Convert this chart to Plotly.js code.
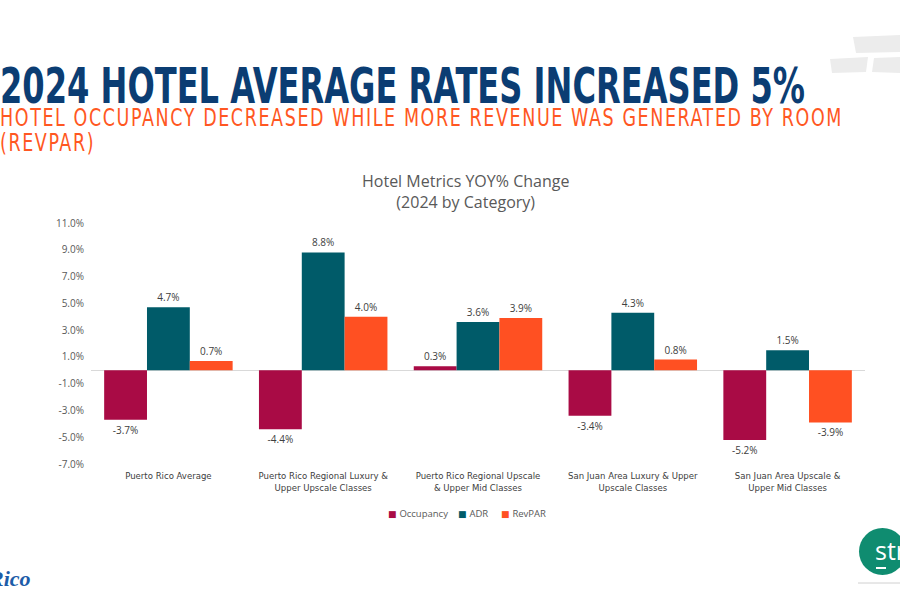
<!DOCTYPE html>
<html>
<head>
<meta charset="utf-8">
<script src="https://cdn.plot.ly/plotly-3.0.1.min.js"></script>
<style>
html,body{margin:0;padding:0;background:#fff;overflow:hidden}
#wrap{position:relative;width:900px;height:600px}
#chart{position:absolute;left:0;top:0;width:900px;height:600px}
.hd{position:absolute;left:0;white-space:nowrap;transform-origin:0 0;line-height:1;
    font-family:'Liberation Sans Narrow','DejaVu Sans Condensed','Liberation Sans',sans-serif;z-index:2}
</style>
</head>
<body>
<div id="wrap">
  <div id="chart"></div>
  <span class="hd" id="t1" style="top:61px;font-size:50px;font-weight:bold;color:#0b3d73">2024 HOTEL AVERAGE RATES INCREASED 5%</span>
  <span class="hd" id="t2" style="top:107px;font-size:24px;line-height:22px;color:#ff5722;letter-spacing:2px">HOTEL OCCUPANCY DECREASED WHILE MORE REVENUE WAS GENERATED BY ROOM</span>
  <span class="hd" id="t3" style="top:132px;font-size:24px;line-height:22px;color:#ff5722;letter-spacing:2px">(REVPAR)</span>
</div>
<script>
// ---- data ----
const categories = [
  "Puerto Rico Average",
  "Puerto Rico Regional Luxury &<br>Upper Upscale Classes",
  "Puerto Rico Regional Upscale<br>& Upper Mid Classes",
  "San Juan Area Luxury & Upper<br>Upscale Classes",
  "San Juan Area Upscale &<br>Upper Mid Classes"
];
const occupancy = [-3.7, -4.4, 0.3, -3.4, -5.2];
const adr       = [4.7, 8.8, 3.6, 4.3, 1.5];
const revpar    = [0.7, 4.0, 3.9, 0.8, -3.9];
const seriesNames = ["Occupancy", "ADR", "RevPAR"];
const yTickVals = [-7, -5, -3, -1, 1, 3, 5, 7, 9, 11];
const yTickText = yTickVals.map(v => v.toFixed(1) + "%");

// ---- styling ----
const colors = ["#a90b45", "#005b69", "#ff5022"];
const M = {l: 91, r: 35, t: 223, b: 136};
const PW = 900 - M.l - M.r, PH = 600 - M.t - M.b;
const px = x => (x - M.l) / PW;
const py = y => (600 - M.b - y) / PH;
const labelFont = {family: "Open Sans, sans-serif", size: 10, color: "#404040"};
const legendX = [386, 456, 499];

const seriesVals = [occupancy, adr, revpar];
const traces = seriesVals.map((vals, i) => ({
  type: "bar", name: seriesNames[i], x: categories, y: vals,
  marker: {color: colors[i]},
  texttemplate: "%{y:.1f}%", textposition: "outside", cliponaxis: false,
  textfont: labelFont, showlegend: false, hoverinfo: "skip"
}));

const shapes = [
  // grey brush strokes top-right
  {type: "path", xref: "paper", yref: "paper", layer: "below",
   path: `M${px(853)},${py(37)} L${px(900)},${py(35)} L${px(900)},${py(52)} L${px(856)},${py(53)} Z`,
   fillcolor: "#ececec", line: {width: 0}},
  {type: "path", xref: "paper", yref: "paper", layer: "below",
   path: `M${px(830)},${py(59)} L${px(868)},${py(57)} L${px(866)},${py(72)} L${px(832)},${py(73)} Z`,
   fillcolor: "#ececec", line: {width: 0}},
  {type: "path", xref: "paper", yref: "paper", layer: "below",
   path: `M${px(874)},${py(58)} L${px(900)},${py(57)} L${px(900)},${py(73)} L${px(872)},${py(72)} Z`,
   fillcolor: "#ececec", line: {width: 0}},
  // str logo circle
  {type: "circle", xref: "paper", yref: "paper",
   x0: px(859), x1: px(906), y0: py(575), y1: py(528),
   fillcolor: "#0f8c70", line: {width: 0}},
  {type: "line", xref: "paper", yref: "paper",
   x0: px(876), x1: px(886), y0: py(568), y1: py(568),
   line: {color: "#ffffff", width: 2}},
  {type: "line", xref: "paper", yref: "paper",
   x0: px(858), x1: px(900), y0: py(583), y1: py(583),
   line: {color: "#d0d0d0", width: 1}}
];

const annotations = [
  {xref: "paper", yref: "paper", x: px(465), y: py(191), xanchor: "center", yanchor: "middle",
   text: "Hotel Metrics YOY% Change<br>(2024 by Category)", showarrow: false,
   font: {family: "Open Sans, sans-serif", size: 16, color: "#595959"}},
  {xref: "paper", yref: "paper", x: px(873), y: py(550), xanchor: "left", yanchor: "middle",
   text: "str", showarrow: false,
   font: {family: "Open Sans, sans-serif", size: 25, color: "#ffffff"}},
  {xref: "paper", yref: "paper", x: px(33), y: py(578), xanchor: "right", yanchor: "middle",
   text: "<b><i>Rico</i></b>", showarrow: false,
   font: {family: "Liberation Serif, serif", size: 22, color: "#1c5ca8"}}
];
// legend: coloured square + series name
seriesNames.forEach((n, i) => annotations.push({
  xref: "paper", yref: "paper", x: px(legendX[i]), y: py(513), xanchor: "left", yanchor: "middle",
  showarrow: false,
  text: `<span style="color:${colors[i]};font-family:'DejaVu Sans';font-size:9px">■ </span>${n}`,
  font: {family: "Open Sans, sans-serif", size: 9.5, color: "#595959"}
}));

const layout = {
  width: 900, height: 600, margin: M,
  paper_bgcolor: "#ffffff", plot_bgcolor: "#ffffff",
  barmode: "group", bargap: 0.17, bargroupgap: 0,
  showlegend: false,
  xaxis: {type: "category", showline: false, showgrid: false, zeroline: false, ticks: "",
          ticklabelstandoff: 4,
          tickfont: {family: "DejaVu Sans Condensed, sans-serif", size: 9.5, color: "#404040"},
          fixedrange: true},
  yaxis: {range: [-7, 11], tickvals: yTickVals, ticktext: yTickText,
          showgrid: false, showline: false, ticks: "", zeroline: true,
          zerolinecolor: "#d9d9d9", zerolinewidth: 1, ticklabelstandoff: 6,
          tickfont: {family: "Open Sans, sans-serif", size: 10, color: "#595959"}, fixedrange: true},
  shapes: shapes, annotations: annotations
};

Plotly.newPlot("chart", traces, layout, {displayModeBar: false, staticPlot: true});

function fit() {
  const t1 = document.getElementById("t1"), t2 = document.getElementById("t2"), t3 = document.getElementById("t3");
  const s1 = 805 / t1.getBoundingClientRect().width;
  t1.style.transform = `scaleX(${s1})`;
  const s2 = 843 / t2.getBoundingClientRect().width;
  t2.style.transform = `scaleX(${s2})`;
  t3.style.transform = `scaleX(${s2})`;
}
if (document.fonts && document.fonts.ready) document.fonts.ready.then(fit); else fit();
</script>
</body>
</html>
